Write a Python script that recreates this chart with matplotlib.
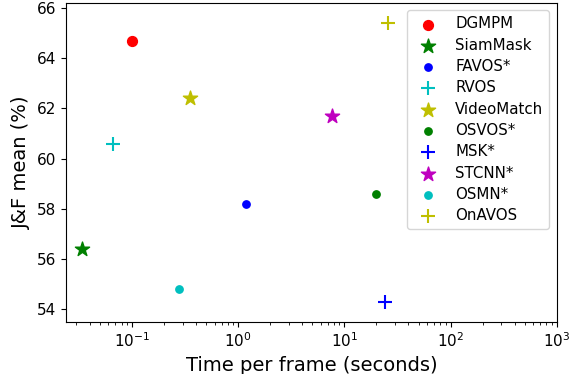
import matplotlib
matplotlib.use('Agg')
import matplotlib.pyplot as plt

# Methods, speed (s/frame) and J&F mean (%)
methods = ['DGMPM', 'SiamMask', 'FAVOS*', 'RVOS', 'VideoMatch',
           'OSVOS*', 'MSK*', 'STCNN*', 'OSMN*', 'OnAVOS']
times = [0.1, 0.034, 1.2, 0.067, 0.35, 20, 24, 7.7, 0.28, 26]
scores = [64.7, 56.4, 58.2, 60.6, 62.4, 58.6, 54.3, 61.7, 54.8, 65.4]
colors = ['r', 'g', 'b', 'c', 'y', 'g', 'b', 'm', 'c', 'y']
markers = ['o', '*', 'o', '+', '*', 'o', '+', '*', 'o', '+']
sizes = [50, 115, 28, 110, 115, 28, 110, 115, 28, 110]

fig = plt.figure(figsize=(5.74, 3.74), dpi=100)
ax = fig.add_subplot(111)
fig.subplots_adjust(left=0.115, right=0.970, top=0.992, bottom=0.139)

for name, t, s, c, m, sz in zip(methods, times, scores, colors, markers, sizes):
    ax.scatter(t, s, color=c, marker=m, s=sz, label=name)

ax.set_xscale('log')
ax.set_xlim(0.024, 1000)
ax.set_ylim(53.5, 66.2)
ax.set_yticks([54, 56, 58, 60, 62, 64, 66])
ax.tick_params(labelsize=11)
ax.set_xlabel('Time per frame (seconds)', fontsize=14)
ax.set_ylabel('J&F mean (%)', fontsize=14)
ax.legend(loc='upper right', fontsize=10.8, labelspacing=0.42)

fig.savefig('out.png', dpi=100)
